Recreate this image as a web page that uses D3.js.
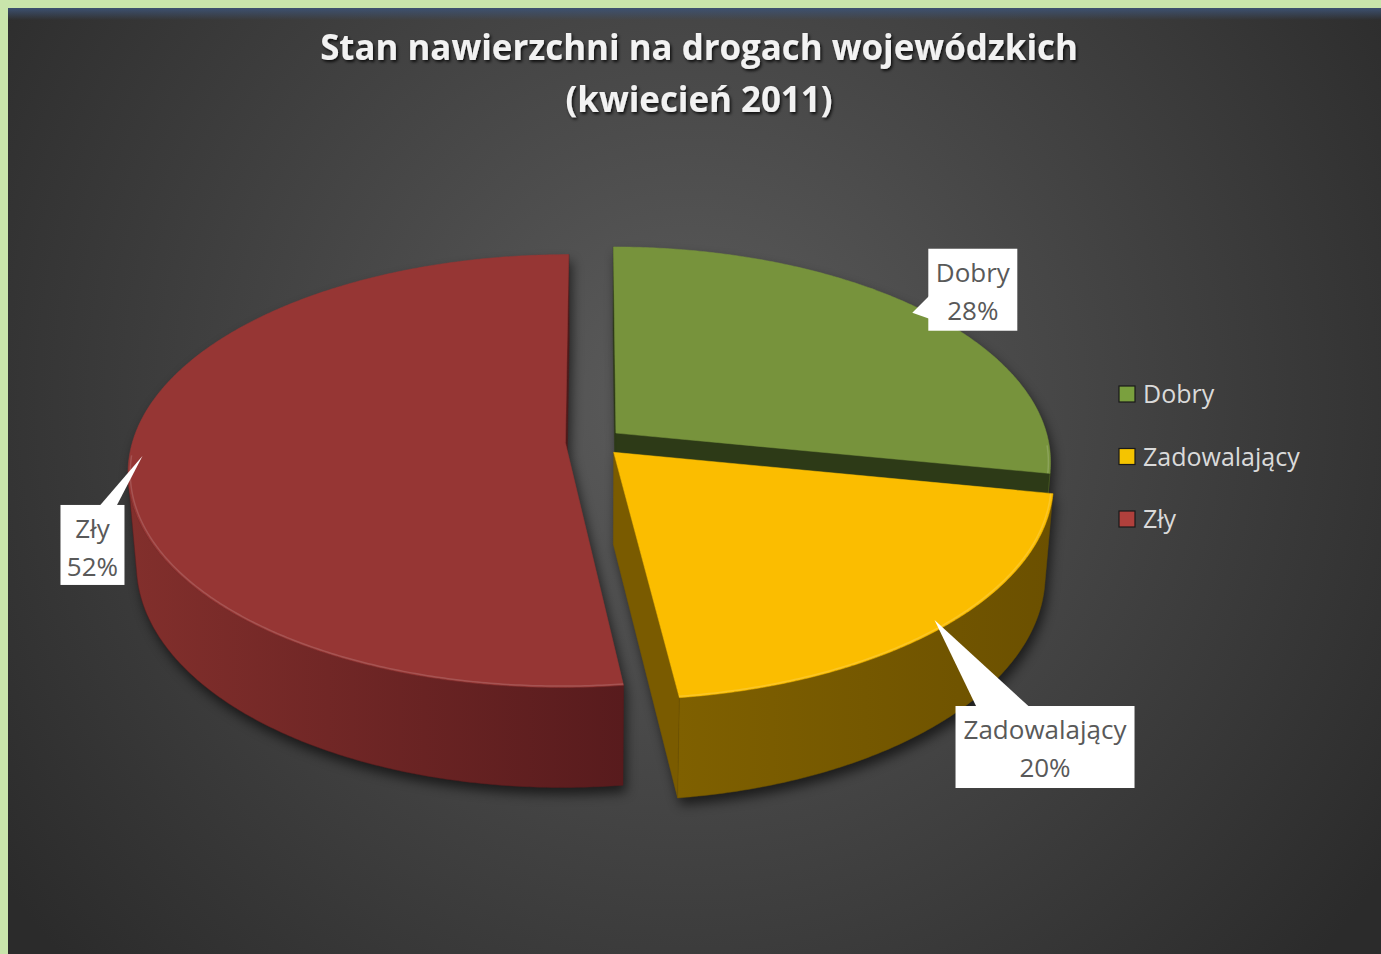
<!DOCTYPE html>
<html><head><meta charset="utf-8">
<script src="https://cdn.jsdelivr.net/npm/d3@7"></script>
<style>html,body{margin:0;padding:0;background:#c9e5ab;overflow:hidden}</style>
</head><body><svg id="c" width="1381" height="954"></svg>
<script>
// ---------- data ----------
const categories = ["Dobry", "Zadowalający", "Zły"];
const values = [28, 20, 52];
const valueLabels = ["28%", "20%", "52%"];
const titleLines = ["Stan nawierzchni na drogach wojewódzkich", "(kwiecień 2011)"];

// ---------- style ----------
const topColors  = ["#77933c", "#fbbd00", "#963634"];
const wallLeft   = ["#55692b", "#7f6000", "#822f2c"];
const wallRight  = ["#4a5c25", "#6b5000", "#581b1d"];
const cutColors  = ["#2d3a17", "#7a5b00", "#4e1a1a"];
const legendCols = ["#7aa03e", "#f5c400", "#b0403c"];

const W = 1381, H = 954;
const svg = d3.select("#c");
const defs = svg.append("defs");

const rg = defs.append("radialGradient").attr("id", "bg")
  .attr("gradientUnits", "userSpaceOnUse").attr("cx", 690).attr("cy", 400).attr("r", 840);
rg.append("stop").attr("offset", "0").attr("stop-color", "#5c5c5c");
rg.append("stop").attr("offset", "1").attr("stop-color", "#2b2b2b");
svg.append("rect").attr("width", W).attr("height", H).attr("fill", "#c9e5ab");
svg.append("rect").attr("x", 8).attr("y", 8).attr("width", W - 8).attr("height", H - 8).attr("fill", "url(#bg)");
const tb = defs.append("linearGradient").attr("id", "topband").attr("x1", 0).attr("y1", 0).attr("x2", 0).attr("y2", 1);
tb.append("stop").attr("offset", 0).attr("stop-color", "#3d5273").attr("stop-opacity", 0.95);
tb.append("stop").attr("offset", 1).attr("stop-color", "#3d5273").attr("stop-opacity", 0);
svg.append("rect").attr("x", 8).attr("y", 8).attr("width", W - 8).attr("height", 12).attr("fill", "url(#topband)");

const f1 = defs.append("filter").attr("id", "blur").attr("x", "-20%").attr("y", "-20%").attr("width", "140%").attr("height", "150%");
f1.append("feGaussianBlur").attr("stdDeviation", 6);
const f2 = defs.append("filter").attr("id", "tshadow").attr("x", "-10%").attr("y", "-30%").attr("width", "120%").attr("height", "160%");
f2.append("feDropShadow").attr("dx", 1.5).attr("dy", 2).attr("stdDeviation", 1.5).attr("flood-color", "#000").attr("flood-opacity", 0.8);

// ---------- title ----------
const title = svg.append("g").attr("filter", "url(#tshadow)");
const t1 = title.append("text").attr("x", 699).attr("y", 60).attr("text-anchor", "middle")
  .attr("font-family", "Open Sans").attr("font-weight", "bold").attr("font-size", 32)
  .attr("fill", "#f2f2f2").text(titleLines[0]);
const fs = 32 * 758 / t1.node().getComputedTextLength();
t1.attr("font-size", fs);
title.append("text").attr("x", 699).attr("y", 112).attr("text-anchor", "middle")
  .attr("font-family", "Open Sans").attr("font-weight", "bold").attr("font-size", fs)
  .attr("fill", "#f2f2f2").text(titleLines[1]);

// ---------- 3D pie ----------
const geo = {cx: 594, cy: 442, S: 433, phi: 29.4 * Math.PI / 180, D: 6.7, H: 0.247, E: 0.066};
const sinP = Math.sin(geo.phi), cosP = Math.cos(geo.phi);
function proj(x, z, y) {
  const sy = z * sinP - y * cosP;
  const dep = z * cosP + y * sinP;
  const k = geo.D / (geo.D - dep);
  return [geo.cx + geo.S * x * k, geo.cy + geo.S * sy * k, dep];
}
const cam = {x: 0, y: geo.D * sinP, z: geo.D * cosP};

const arcs = d3.pie().sort(null).value(d => d)(values);
const line = d3.line();
const xy = p => [p[0], p[1]];
const slices = arcs.map((d, i) => {
  const a0 = d.startAngle, a1 = d.endAngle, m = (a0 + a1) / 2;
  const ox = geo.E * Math.sin(m), oz = -geo.E * Math.cos(m);
  return {i, a0, a1, m, ox, oz};
});

const shadowG = svg.append("g").attr("filter", "url(#blur)").attr("transform", "translate(3,7)").attr("opacity", 0.6);
const pieG = svg.append("g");
const sorted = slices.slice().sort((a, b) => a.oz - b.oz);
sorted.forEach(s => {
  const {i, a0, a1, ox, oz} = s;
  const rim = (a, y, r = 1) => proj(ox + r * Math.sin(a), oz - r * Math.cos(a), y);
  const apex = y => proj(ox, oz, y);
  const faces = [];
  const n = Math.max(4, Math.ceil((a1 - a0) / (0.5 * Math.PI / 180)));
  const st = (a1 - a0) / n;
  const visA = [];
  for (let k = 0; k <= n; k++) {
    const a = a0 + k * st;
    const px = ox + Math.sin(a), pz = oz - Math.cos(a);
    const vis = Math.sin(a) * (cam.x - px) + (-Math.cos(a)) * (cam.z - pz);
    if (vis > 0) visA.push(a);
  }
  if (visA.length > 1) {
    const topR = visA.map(a => rim(a, 0));
    const botR = visA.map(a => rim(a, -geo.H)).reverse();
    const pts = topR.concat(botR);
    const ext = d3.extent(pts, p => p[0]);
    const gid = "wall" + i;
    const lg = defs.append("linearGradient").attr("id", gid).attr("gradientUnits", "userSpaceOnUse")
      .attr("x1", ext[0]).attr("x2", ext[1]).attr("y1", 0).attr("y2", 0);
    lg.append("stop").attr("offset", 0).attr("stop-color", wallLeft[i]);
    lg.append("stop").attr("offset", 1).attr("stop-color", wallRight[i]);
    faces.push({pts, dep: d3.mean(pts, p => p[2]), fill: `url(#${gid})`, stroke: wallRight[i]});
  }
  const n0 = [-Math.cos(a0), -Math.sin(a0)];
  if (n0[0] * (cam.x - ox) + n0[1] * (cam.z - oz) > 0) {
    const pts = [apex(0), rim(a0, 0), rim(a0, -geo.H), apex(-geo.H)];
    faces.push({pts, dep: d3.mean(pts, p => p[2]), fill: cutColors[i], stroke: cutColors[i]});
  }
  const n1 = [Math.cos(a1), Math.sin(a1)];
  if (n1[0] * (cam.x - ox) + n1[1] * (cam.z - oz) > 0) {
    const pts = [apex(0), rim(a1, 0), rim(a1, -geo.H), apex(-geo.H)];
    faces.push({pts, dep: d3.mean(pts, p => p[2]), fill: cutColors[i], stroke: cutColors[i]});
  }
  faces.sort((a, b) => a.dep - b.dep);
  const topPts = [apex(0)];
  for (let k = 0; k <= n; k++) topPts.push(rim(a0 + k * st, 0));

  // soft shadow silhouette
  faces.forEach(f => shadowG.append("path").attr("d", line(f.pts.map(xy)) + "Z").attr("fill", "#000"));
  shadowG.append("path").attr("d", line(topPts.map(xy)) + "Z").attr("fill", "#000");

  const g = pieG.append("g");
  g.selectAll("path.wall").data(faces).join("path").attr("class", "wall")
    .attr("d", f => line(f.pts.map(xy)) + "Z")
    .attr("fill", f => f.fill).attr("stroke", f => f.stroke).attr("stroke-width", 0.5).attr("stroke-linejoin", "round");
  g.append("path").attr("d", line(topPts.map(xy)) + "Z")
    .attr("fill", topColors[i]).attr("stroke", topColors[i]).attr("stroke-width", 0.5);
  const hl = [];
  for (let k = 0; k <= n; k++) {
    const a = a0 + k * st;
    if (Math.cos(a) < -0.05) hl.push(rim(a, 0, 0.995));
  }
  if (hl.length > 1) g.append("path").attr("d", line(hl.map(xy)))
    .attr("fill", "none").attr("stroke", "#ffffff").attr("stroke-opacity", 0.15).attr("stroke-width", 1.5);
});

// ---------- data labels (callouts) ----------
const labelLayout = [
  {dx: 16, dy: -64, w: 89, h: 82, side: "left", b0: -17, b1: 6},
  {dx: 21, dy: 86, w: 179, h: 82, side: "top", b0: 42, b1: 95},
  {dx: -82, dy: 49, w: 64, h: 80, side: "top", b0: -43, b1: -26}
];
const lblG = svg.append("g");
slices.forEach(s => {
  const L = labelLayout[s.i];
  const tip = proj(s.ox + 0.97 * Math.sin(s.m), s.oz - 0.97 * Math.cos(s.m), 0);
  const bx = tip[0] + L.dx, by = tip[1] + L.dy;
  let tri;
  if (L.side === "left") tri = [[tip[0], tip[1]], [bx + 1, tip[1] + L.b0], [bx + 1, tip[1] + L.b1]];
  else tri = [[tip[0], tip[1]], [tip[0] + L.b0, by + 1], [tip[0] + L.b1, by + 1]];
  lblG.append("path").attr("d", line(tri) + "Z").attr("fill", "#ffffff");
  lblG.append("rect").attr("x", bx).attr("y", by).attr("width", L.w).attr("height", L.h).attr("fill", "#ffffff");
  const t = lblG.append("text").attr("text-anchor", "middle").attr("font-family", "Open Sans")
    .attr("font-size", 26).attr("fill", "#595959");
  t.append("tspan").attr("x", bx + L.w / 2).attr("y", by + 33).text(categories[s.i]);
  t.append("tspan").attr("x", bx + L.w / 2).attr("y", by + 71).text(valueLabels[s.i]);
});

// ---------- legend ----------
const leg = svg.append("g").attr("transform", "translate(1119,386)");
const li = leg.selectAll("g").data(categories).join("g").attr("transform", (d, i) => `translate(0,${i * 62.5})`);
li.append("rect").attr("width", 16).attr("height", 16).attr("fill", (d, i) => legendCols[i])
  .attr("stroke", "#1a1a1a").attr("stroke-width", 1.2);
li.append("text").attr("x", 24).attr("y", 17).attr("font-family", "Open Sans").attr("font-size", 25)
  .attr("fill", "#dadada").text(d => d);
</script></body></html>
